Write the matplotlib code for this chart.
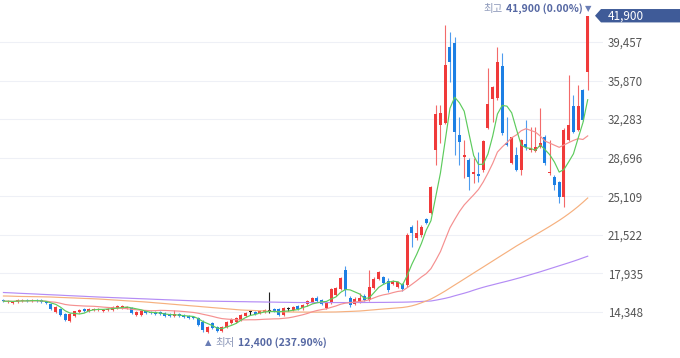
import matplotlib
matplotlib.use('Agg')
import matplotlib.pyplot as plt
import numpy as np
import pandas as pd
from matplotlib.patches import Polygon
from matplotlib.transforms import blended_transform_factory

plt.rcParams['font.family'] = ['Noto Sans CJK KR', 'DejaVu Sans']

# ---------------- data (KRW) ----------------
opens = [15450,15300,15200,15300,15350,15450,15350,15450,15450,15300,
         15100,14350,14650,14150,13500,14000,14350,14650,14450,14550,
         14550,14450,14550,14550,14700,14700,14700,14700,14050,14050,
         14450,14350,14350,14350,14250,14150,14000,14150,14050,14000,
         13900,13800,13400,12500,13300,12950,12600,12950,13300,13400,
         13600,14000,14350,14350,14250,14350,14450,14650,14650,14050,
         14650,14550,14900,14700,15100,15300,15650,15450,14700,15300,
         15950,16500,18250,15650,15100,15300,15850,15450,16600,17400,
         17600,17250,16950,16650,16950,16850,22250,21250,21500,23000,
         23550,29400,31750,31900,39000,39350,30800,28750,28500,27200,
         27200,27550,31450,34150,34250,37250,30050,28200,28950,27550,
         29950,29400,29300,29700,30600,27250,26900,26450,25050,30350,
         33500,31250,35000,36650]
highs = [15550,15450,15350,15550,15550,15550,15550,15550,15550,15350,
         15200,14900,14700,14250,14250,14450,14650,14700,14700,14700,
         14700,14650,14700,14900,15000,15000,14900,14800,14450,14550,
         14550,14450,14450,14450,14350,14250,14550,14250,14150,14050,
         14000,13900,13600,13050,13400,13050,13050,13500,13800,13900,
         14150,14350,14550,14450,14550,14650,16200,14700,14700,14800,
         14800,14900,15000,15100,15450,15750,15850,15550,15300,16600,
         16650,17600,18600,15850,15750,16100,16000,18250,17600,18150,
         17700,17500,17300,17250,17050,21700,22450,22900,22450,23100,
         26050,33600,33600,41050,40400,39900,32500,30350,28650,28650,
         29250,30350,37050,35350,39000,38450,32500,30600,29700,30450,
         32200,31550,31550,33300,30800,30350,27100,26550,31450,36400,
         34550,35450,35100,41900]
lows = [15300,15200,15100,15200,15300,15300,15300,15300,15200,15100,
        14550,14250,14000,13500,13400,13900,14250,14350,14350,14450,
        14450,14350,14450,14450,14650,14650,14650,14150,14000,14000,
        14150,14150,14050,14050,13900,13900,13900,13900,13800,13700,
        13700,13050,12500,12400,12750,12500,12500,12850,13250,13300,
        13500,13900,14050,14050,14150,14250,14250,14350,14000,14000,
        14450,14450,14550,14550,14900,15200,15300,15000,14650,15100,
        15850,16400,15850,14800,15000,15200,15350,15350,16500,17300,
        16950,16200,16850,16600,16300,16650,20400,21050,21300,22550,
        23450,28000,30050,31850,35750,28950,28000,26800,25700,26350,
        26450,27350,31350,32000,34050,30800,29800,28100,27450,27100,
        29400,29250,29250,29600,28000,27100,25700,24500,24100,30250,
        31000,31200,32100,35000]
closes = [15350,15350,15300,15450,15450,15350,15450,15350,15300,15200,
          14650,14800,14050,13600,14150,14450,14550,14450,14650,14650,
          14650,14550,14650,14800,14900,14900,14800,14250,14350,14450,
          14250,14250,14150,14150,14000,14000,14150,14000,13900,13800,
          13800,13150,12650,12950,12850,12600,12950,13400,13700,13800,
          14050,14250,14350,14150,14450,14550,14450,14350,14050,14700,
          14650,14800,14650,15000,15350,15650,15350,15100,15200,16500,
          16600,17500,16400,15000,15550,15650,15450,16650,17400,18050,
          17050,16400,17150,17150,16500,21500,21700,21700,22250,22600,
          25950,32750,32850,37300,37600,31100,30150,28950,26900,27350,
          27000,30250,33700,35250,37600,31000,29900,30600,27550,30350,
          29700,29600,29700,30050,28200,27350,26150,25050,31250,31750,
          31100,33500,32200,41900]
ma60 = [15835,15830,15815,15800,15790,15785,15775,15770,15760,15750,15740,
        15720,15700,15685,15665,15650,15630,15610,15595,15575,15555,
        15530,15500,15470,15445,15415,15385,15360,15330,15305,15275,
        15240,15200,15165,15130,15090,15055,15015,14980,14940,14905,
        14870,14830,14795,14755,14720,14685,14645,14610,14570,14535,
        14515,14500,14480,14460,14440,14420,14405,14385,14365,14350,
        14345,14340,14340,14335,14335,14335,14340,14340,14345,
        14350,14365,14385,14400,14420,14440,14475,14515,14550,14590,14625,
        14660,14695,14730,14765,
        14830,14920,15045,15205,15370,15555,15790,16040,16300,16580,16860,
        17135,17415,17695,17975,18255,18530,18810,19090,19370,19650,19925,
        20205,20485,20745,21005,21265,21525,21785,22045,22310,22585,22865,
        23165,23480,23815,24170,24550,24950]
ma120 = [16160,16140,16120,16095,16075,16055,16035,16015,15990,15970,15950,
         15930,15910,15885,15865,15845,15825,15805,15780,15760,15740,
         15720,15705,15685,15670,15650,15635,15615,15600,15580,15565,15545,
         15525,15510,15490,15475,15455,15440,15420,15405,15385,15370,
         15365,15355,15350,15345,15335,15330,15325,15315,15310,15305,15295,
         15290,15285,15275,15270,15265,15255,15250,15245,15235,15230,
         15230,15230,15225,15225,15225,15225,15225,15225,15225,15225,15230,
         15230,15230,15230,15235,15235,15240,15240,15245,15250,15255,15260,
         15270,15285,15305,15325,15350,15370,
         15445,15530,15620,15725,15855,15975,16095,16225,16375,16515,16645,
         16765,16875,16990,17100,17210,17325,17445,17565,17695,17825,17955,
         18085,18225,18365,18505,18645,18785,18925,19070,19220,19380,19535]
y_ticks = [14348, 17935, 21522, 25109, 28696, 32283, 35870, 39457]
high_value, high_pct = 41900, "0.00%"
low_value, low_pct = 12400, "237.90%"
last_value = 41900

# ---------------- figure ----------------
W, H = 680, 358
fig = plt.figure(figsize=(W / 100, H / 100), dpi=100)
ax_right_px = 603
ax = fig.add_axes([0, 0, ax_right_px / W, 1])

n = len(closes)
x = np.arange(n)
o = np.array(opens, float); c = np.array(closes, float)
h = np.array(highs, float); l = np.array(lows, float)

RED, BLUE, BLACK = '#f03a3a', '#1c7fe4', '#222222'
RED_W, BLUE_W = '#f36a6a', '#4f9cee'
body_col, wick_col = [], []
for oi, ci in zip(o, c):
    if ci > oi:
        body_col.append(RED); wick_col.append(RED_W)
    elif ci < oi:
        body_col.append(BLUE); wick_col.append(BLUE_W)
    else:
        body_col.append(BLACK); wick_col.append(BLACK)

ax.vlines(x, l, h, colors=wick_col, linewidth=0.8, zorder=2)
bottoms = np.minimum(o, c)
heights = np.maximum(np.abs(c - o), 70)
ax.bar(x, heights, bottom=bottoms, width=0.62, color=body_col, linewidth=0, zorder=3)

s = pd.Series(closes, dtype=float)
ma5 = s.rolling(5, min_periods=1).mean()
ma20 = s.rolling(20, min_periods=1).mean()
ax.plot(x, ma120, color='#b48cf5', lw=0.85, zorder=4)
ax.plot(x, ma60, color='#f6b07e', lw=0.85, zorder=4)
ax.plot(x, ma20, color='#f59090', lw=0.85, zorder=4)
ax.plot(x, ma5, color='#5dcb5d', lw=0.85, zorder=4)

# scales
px_per_candle = 4.75
x0_px = 3.45
ax.set_xlim(-x0_px / px_per_candle, (ax_right_px - x0_px) / px_per_candle)
won_per_px = 93.0
ytop = 43363
ax.set_ylim(ytop - won_per_px * H, ytop)

ax.set_yticks(y_ticks)
ax.set_yticklabels([f"{v:,}" for v in y_ticks])
ax.yaxis.tick_right()
ax.tick_params(axis='y', length=0, pad=3.6, labelsize=8.3, labelcolor='#555555')
ax.set_xticks([])
for sp in ax.spines.values():
    sp.set_visible(False)
ax.grid(axis='y', color='#eef0f6', lw=0.8, zorder=0)
ax.set_axisbelow(True)

# current price box
tr = blended_transform_factory(ax.transAxes, ax.transData)
hh = 6.7 * won_per_px
tip = 595 / ax_right_px; bl = 601 / ax_right_px; br = 1.2
poly = Polygon([(tip, last_value), (bl, last_value + hh), (br, last_value + hh),
                (br, last_value - hh), (bl, last_value - hh)],
               closed=True, transform=tr, facecolor='#3f5b98', edgecolor='none',
               clip_on=False, zorder=6)
ax.add_patch(poly)
ax.text(608 / ax_right_px, last_value, f"{last_value:,}", transform=tr, color='white',
        fontsize=8.5, ha='left', va='center', zorder=7, clip_on=False)

# high / low annotations
fig.canvas.draw()
r = fig.canvas.get_renderer()
mark_col = '#6a7db5'
num_col = '#5668a3'
lab_col = '#8a96b8'
i_hi = int(np.argmax(h))
y_hi = ytop - 9 * won_per_px
ax.annotate('▼', xy=(i_hi, y_hi), xytext=(0.5, 0), textcoords='offset pixels',
            ha='center', va='center', fontsize=6, color=mark_col, family=['DejaVu Sans'])
t1 = ax.annotate(f"{high_value:,} ({high_pct})", xy=(i_hi, y_hi), xytext=(-5, 0),
                 textcoords='offset pixels', ha='right', va='center', fontsize=7.5,
                 fontweight='bold', color=num_col)
w1 = t1.get_window_extent(r).width
ax.annotate('최고', xy=(i_hi, y_hi), xytext=(-5 - w1 - 3, 0), textcoords='offset pixels',
            ha='right', va='center', fontsize=7.5, color=lab_col)

i_lo = int(np.argmin(l))
y_lo = ytop - 343 * won_per_px
ax.annotate('▲', xy=(i_lo, y_lo), xytext=(0.5, 0), textcoords='offset pixels',
            ha='center', va='center', fontsize=6, color=mark_col, family=['DejaVu Sans'])
t2 = ax.annotate('최저', xy=(i_lo, y_lo), xytext=(8, 0), textcoords='offset pixels',
                 ha='left', va='center', fontsize=7.5, color=lab_col)
w2 = t2.get_window_extent(r).width
ax.annotate(f"{low_value:,} ({low_pct})", xy=(i_lo, y_lo), xytext=(8 + w2 + 3, 0),
            textcoords='offset pixels', ha='left', va='center', fontsize=7.5,
            fontweight='bold', color=num_col)

fig.savefig('out.png', dpi=100)
